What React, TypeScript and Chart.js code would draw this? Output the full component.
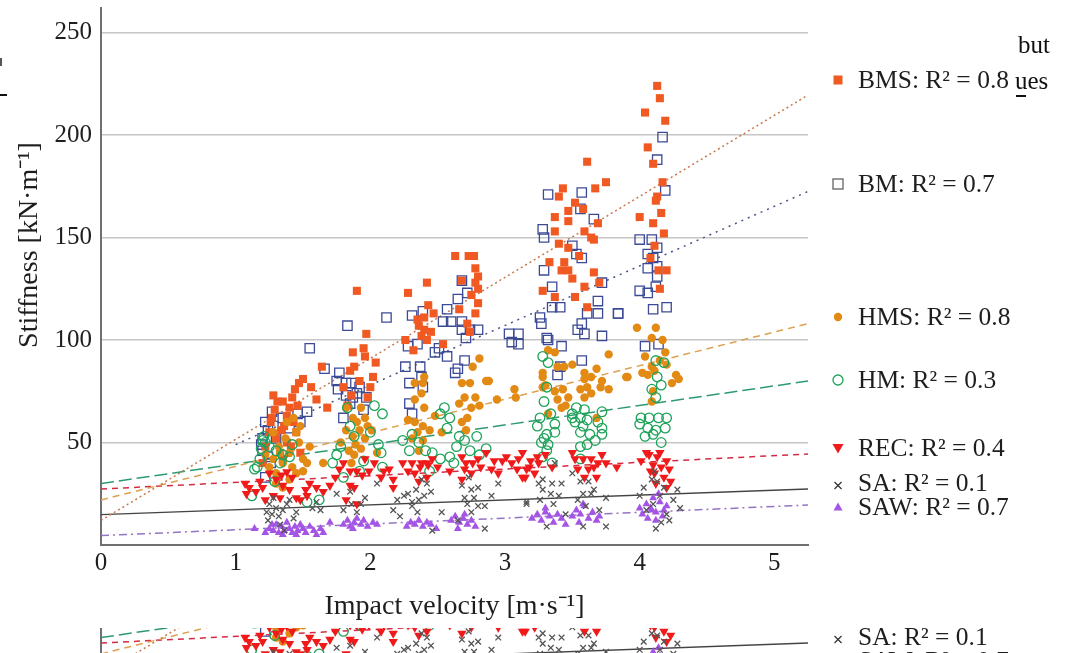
import React, { useEffect, useRef } from "react";
import { Chart, registerables } from "chart.js";

Chart.register(...registerables);

type P = [number, number];

const W = 1073;
const H = 653;
const FONT = "'Liberation Serif', 'Times New Roman', serif";

// ---------- axis ticks ----------
const xTicks = [0, 1, 2, 3, 4, 5];
const yTicks = [50, 100, 150, 200, 250];

// ---------- series (impact velocity m/s, stiffness kN/m) ----------
const bmsPoints: P[] = [
  [1.2, 40], [1.22, 48], [1.25, 55], [1.27, 62], [1.29, 66], [1.3, 52], [1.33, 45], [1.35, 70], [1.36, 58], [1.38, 63],
  [1.4, 67], [1.42, 72], [1.44, 76], [1.45, 55], [1.47, 79], [1.5, 81], [1.31, 70], [1.28, 73], [1.38, 50], [1.43, 60],
  [1.46, 68], [1.26, 60], [1.34, 56], [1.48, 45], [1.35, 42], [1.41, 48], [1.6, 71], [1.68, 67], [1.64, 87], [1.56, 77],
  [1.8, 77], [1.83, 68], [1.85, 85], [1.87, 94], [1.88, 87], [1.9, 124], [1.92, 80], [1.95, 96], [1.96, 92], [1.97, 103],
  [2.0, 77], [2.02, 82], [2.04, 89], [1.98, 72], [1.86, 73],
  [2.28, 123], [2.42, 128], [2.43, 117], [2.4, 111], [2.36, 107], [2.4, 105], [2.45, 104], [2.26, 100], [2.42, 100], [2.38, 102],
  [2.54, 98], [2.32, 95], [2.35, 110], [2.47, 113],
  [2.63, 141], [2.73, 141], [2.77, 141], [2.78, 135], [2.8, 131], [2.78, 128], [2.8, 125], [2.75, 122], [2.8, 118], [2.78, 113],
  [2.68, 129], [2.72, 108], [2.66, 115], [2.74, 104],
  [3.61, 187], [3.75, 177], [3.67, 174], [3.43, 174], [3.4, 170], [3.58, 164], [3.47, 163], [3.52, 167], [3.37, 160], [3.47, 158],
  [3.69, 157], [3.37, 153], [3.59, 153], [3.64, 150], [3.66, 149], [3.4, 147], [3.47, 145], [3.44, 138], [3.42, 134], [3.47, 134],
  [3.66, 133], [3.59, 126], [3.7, 128], [3.28, 124], [3.37, 121], [3.52, 121], [3.61, 116], [3.55, 141], [3.5, 130], [3.33, 138],
  [4.13, 224], [4.15, 218], [4.04, 211], [4.19, 207], [4.06, 194], [4.1, 186], [4.17, 177], [4.13, 170], [4.12, 168], [4.16, 162],
  [4.0, 160], [4.1, 157], [4.18, 152], [4.11, 146], [4.14, 134], [4.2, 134], [4.08, 140], [4.15, 125],
];

const bmPoints: P[] = [
  [1.27, 65], [1.22, 60], [1.24, 56], [1.2, 52], [1.19, 49], [1.2, 46], [1.28, 58], [1.46, 64], [1.53, 65], [1.48, 60],
  [1.24, 43], [1.22, 33], [1.3, 52], [1.35, 62], [1.55, 96], [1.66, 86], [1.4, 57], [1.26, 40],
  [1.83, 107], [1.77, 84], [1.75, 80], [1.82, 79], [1.86, 79], [1.92, 77], [1.76, 76], [1.9, 74], [1.87, 72], [1.97, 72],
  [1.82, 73], [1.85, 69], [1.95, 66], [1.8, 62], [2.12, 111],
  [2.31, 112], [2.39, 114], [2.57, 115], [2.65, 120], [2.68, 129], [2.72, 123], [2.54, 109], [2.6, 109], [2.68, 109], [2.68, 105],
  [2.71, 101], [2.74, 105], [2.8, 105], [2.28, 97], [2.35, 98], [2.51, 96], [2.57, 92], [2.48, 94], [2.65, 86], [2.63, 84],
  [2.7, 90], [2.26, 87], [2.37, 87], [2.38, 82], [2.29, 79], [2.39, 77], [2.29, 69], [2.31, 64], [3.03, 103], [3.1, 103],
  [3.05, 99], [3.1, 98],
  [3.32, 171], [3.57, 172], [3.56, 164], [3.66, 159], [3.28, 154], [3.29, 150], [3.5, 146], [3.53, 142], [3.57, 140], [3.29, 134],
  [3.35, 126], [3.72, 128], [3.35, 116], [3.41, 116], [3.69, 119], [3.61, 113], [3.69, 113], [3.84, 113], [3.26, 111], [3.27, 108],
  [3.31, 101], [3.32, 100], [3.54, 105], [3.57, 108], [3.59, 103], [3.72, 102], [3.42, 97], [3.57, 90], [3.41, 87], [3.39, 83],
  [4.17, 199], [4.13, 188], [4.19, 173], [4.0, 149], [4.09, 149], [4.13, 145], [4.06, 142], [4.1, 140], [4.06, 135], [4.13, 136],
  [4.13, 131], [4.12, 126], [4.0, 124], [4.06, 123], [3.84, 113], [4.1, 115], [4.2, 116], [4.04, 97], [4.14, 98],
];

const hmsPoints: P[] = [
  [1.25, 38], [1.28, 42], [1.3, 35], [1.32, 48], [1.35, 40], [1.37, 52], [1.4, 45], [1.42, 38], [1.45, 55], [1.47, 50],
  [1.5, 42], [1.3, 30], [1.4, 32], [1.45, 35], [1.35, 28], [1.5, 36], [1.55, 48], [1.28, 55], [1.38, 60], [1.43, 62],
  [1.65, 40], [1.22, 44], [1.33, 45], [1.48, 58], [1.53, 40],
  [1.82, 67], [1.93, 67], [1.87, 62], [1.96, 62], [1.98, 58], [1.92, 56], [1.87, 53], [1.96, 52], [1.89, 49], [1.84, 46],
  [1.93, 47], [1.88, 44], [1.82, 56], [2.01, 56], [1.9, 60], [1.86, 40], [2.05, 45], [1.78, 50],
  [2.4, 82], [2.33, 79], [2.39, 79], [2.38, 74], [2.33, 71], [2.4, 67], [2.28, 61], [2.33, 60], [2.39, 58], [2.44, 56],
  [2.35, 55], [2.48, 63], [2.53, 55], [2.31, 52], [2.39, 51], [2.36, 46],
  [2.81, 91], [2.68, 79], [2.74, 79], [2.7, 72], [2.78, 72], [2.66, 69], [2.75, 67], [2.81, 68], [2.86, 80], [2.88, 80],
  [2.72, 62], [2.68, 60], [2.71, 56], [2.94, 71], [3.07, 76], [3.08, 72], [2.76, 87],
  [3.28, 82], [3.28, 77], [3.43, 76], [3.47, 72], [3.45, 68], [3.32, 95], [3.37, 94], [3.28, 84], [3.39, 87], [3.3, 78],
  [3.44, 87], [3.37, 75], [3.39, 71], [3.42, 67], [3.32, 64], [3.77, 93], [3.68, 86], [3.59, 84], [3.64, 82], [3.72, 80],
  [3.59, 81], [3.61, 77], [3.56, 76], [3.71, 77], [3.77, 76], [3.64, 74], [3.9, 82], [3.59, 72], [3.68, 62], [3.5, 88],
  [3.98, 106], [4.12, 106], [4.09, 101], [4.17, 100], [4.04, 92], [4.19, 94], [4.15, 90], [4.09, 87], [4.02, 84], [4.06, 83],
  [4.11, 85], [3.91, 82], [4.27, 83], [4.29, 81], [4.24, 79], [4.1, 75], [4.09, 70], [4.2, 88],
];

const hmPoints: P[] = [
  [1.2, 51], [1.19, 47], [1.16, 38], [1.14, 37], [1.33, 40], [1.35, 44], [1.12, 24], [1.53, 21], [1.21, 53], [1.22, 50],
  [1.29, 31], [1.4, 43], [1.42, 49], [1.62, 22], [1.3, 46], [1.25, 48], [1.18, 42],
  [2.03, 68], [2.09, 64], [1.83, 67], [2.06, 49], [2.08, 45], [2.09, 38], [1.88, 53], [1.78, 48], [1.95, 41], [1.75, 44],
  [1.85, 58], [2.0, 55], [1.92, 36], [1.72, 40], [1.8, 33],
  [2.24, 51], [2.31, 54], [2.36, 50], [2.41, 46], [2.46, 45], [2.29, 46], [2.55, 67], [2.59, 62], [2.52, 64], [2.57, 57],
  [2.66, 53], [2.7, 51], [2.79, 53], [2.64, 48], [2.74, 46], [2.59, 43], [2.52, 42], [2.86, 47], [2.81, 44], [2.44, 36],
  [2.62, 40],
  [3.28, 92], [3.32, 89], [3.31, 77], [3.29, 70], [3.26, 62], [3.34, 64], [3.24, 58], [3.31, 54], [3.37, 59], [3.27, 50],
  [3.31, 46], [3.28, 43], [3.35, 40], [3.37, 55], [3.29, 52], [3.32, 49], [3.53, 67], [3.59, 66], [3.5, 64], [3.56, 62],
  [3.61, 61], [3.52, 60], [3.58, 58], [3.72, 65], [3.69, 60], [3.72, 57], [3.56, 55], [3.63, 54], [3.72, 54], [3.67, 51],
  [3.56, 48], [3.61, 49], [3.56, 42], [3.5, 62],
  [4.12, 90], [4.18, 89], [4.13, 82], [4.16, 78], [4.09, 76], [4.12, 72], [4.01, 62], [4.07, 62], [4.14, 62], [4.2, 62],
  [4.0, 59], [4.06, 57], [4.12, 56], [4.19, 57], [4.04, 53], [4.1, 54], [4.16, 50],
];

const recPoints: P[] = [
  [1.07, 30], [1.1, 28], [1.15, 26], [1.08, 25], [1.2, 28], [1.25, 35], [1.3, 32], [1.34, 34], [1.38, 35.6], [1.42, 33],
  [1.28, 24], [1.33, 23], [1.45, 23], [1.48, 22], [1.53, 24], [1.52, 27], [1.6, 28], [1.55, 30], [1.65, 26], [1.7, 29],
  [1.35, 29], [1.4, 27], [1.18, 31], [1.22, 22],
  [1.74, 33], [1.8, 40], [1.77, 37], [1.85, 36], [1.9, 36], [1.94, 34], [1.85, 29], [1.88, 28], [1.99, 36], [2.08, 33],
  [2.1, 36], [1.82, 22], [1.96, 42], [2.03, 40], [1.9, 20],
  [2.24, 40], [2.31, 40], [2.37, 38], [2.42, 40], [2.14, 37], [2.17, 32], [2.17, 28], [2.28, 36], [2.33, 35], [2.38, 40],
  [2.43, 39], [2.42, 33], [2.36, 31], [2.5, 38], [2.59, 36], [2.46, 42],
  [2.68, 43], [2.71, 40], [2.76, 40], [2.7, 37], [2.75, 35], [2.68, 32], [2.86, 45], [2.92, 41], [2.98, 41], [3.05, 40],
  [3.09, 37], [3.13, 33], [3.18, 38], [2.82, 38], [2.9, 37], [3.01, 43], [3.24, 43], [2.95, 35], [3.1, 42], [2.8, 42],
  [3.13, 45], [3.19, 41], [3.16, 37], [3.22, 35], [3.15, 33], [3.25, 40], [3.3, 44], [3.35, 38],
  [3.52, 42], [3.58, 42], [3.64, 42], [3.69, 40], [3.75, 40], [3.83, 38], [3.54, 37], [3.62, 37], [3.68, 33], [3.59, 33],
  [3.66, 38], [3.72, 44], [3.5, 45],
  [4.01, 41], [4.07, 44], [4.13, 43], [4.2, 41], [4.1, 39], [4.16, 38], [4.22, 37], [4.11, 35], [4.18, 33], [4.2, 28],
  [4.23, 31], [4.05, 45], [4.15, 45], [4.12, 30], [4.08, 36],
];

const saPoints: P[] = [
  [1.25, 20], [1.3, 18], [1.23, 16], [1.27, 15], [1.32, 14], [1.24, 12], [1.35, 17], [1.38, 20], [1.4, 22], [1.43, 13],
  [1.36, 7], [1.33, 10], [1.57, 18], [1.6, 21], [1.63, 17], [1.75, 25], [1.8, 17], [1.86, 20], [1.9, 16], [1.45, 16],
  [1.28, 23],
  [1.96, 23], [1.93, 20], [2.17, 17], [2.2, 22], [2.25, 24], [2.34, 27], [2.36, 22], [2.31, 19], [2.35, 16], [2.42, 30],
  [2.45, 26], [2.4, 24], [2.28, 25], [2.31, 21], [2.46, 7], [2.53, 16], [2.22, 14], [1.85, 26], [2.38, 32], [2.05, 30],
  [2.68, 29], [2.75, 27], [2.7, 23], [2.77, 23], [2.8, 28], [2.72, 20], [2.8, 19], [2.85, 19], [2.75, 16], [2.95, 30],
  [3.16, 20], [2.65, 12], [2.9, 24], [2.73, 33], [2.85, 8],
  [3.37, 40], [3.28, 32], [3.25, 30], [3.35, 30], [3.28, 27], [3.34, 25], [3.26, 22], [3.16, 21], [3.36, 20], [3.42, 30],
  [3.4, 24], [3.56, 31], [3.62, 31], [3.58, 25], [3.64, 25], [3.54, 22], [3.66, 27], [3.75, 23], [3.75, 9], [3.31, 9],
  [3.58, 9], [3.5, 35], [3.6, 19], [3.45, 15], [3.7, 17],
  [4.11, 36], [4.09, 32], [4.18, 28], [4.03, 28], [4.13, 31], [4.0, 24], [4.15, 24], [4.25, 22], [4.28, 27], [4.16, 11],
  [4.1, 20], [4.2, 15], [4.05, 17], [4.22, 12], [4.12, 8], [4.3, 18],
];

const sawPoints: P[] = [
  [1.14, 8], [1.22, 6], [1.25, 8], [1.28, 7], [1.3, 10], [1.32, 6], [1.34, 9], [1.36, 7], [1.38, 11], [1.4, 8],
  [1.42, 6], [1.44, 9], [1.46, 7], [1.48, 10], [1.5, 8], [1.52, 6], [1.55, 9], [1.58, 7], [1.6, 5], [1.63, 8],
  [1.65, 6], [1.7, 11], [1.35, 5], [1.45, 5], [1.27, 10],
  [1.8, 10], [1.83, 12], [1.85, 9], [1.88, 11], [1.9, 13], [1.93, 10], [1.95, 12], [1.98, 9], [2.02, 11], [1.87, 8],
  [2.05, 10],
  [2.27, 9], [2.3, 11], [2.33, 10], [2.36, 12], [2.39, 9], [2.42, 11], [2.45, 10], [2.49, 8], [2.6, 12], [2.63, 14],
  [2.66, 11], [2.69, 13], [2.72, 10], [2.75, 12], [2.78, 9], [2.65, 8], [2.7, 15],
  [3.2, 13], [3.24, 15], [3.27, 12], [3.3, 16], [3.33, 14], [3.36, 11], [3.39, 15], [3.42, 13], [3.3, 18], [3.45, 10],
  [3.5, 14], [3.53, 17], [3.56, 15], [3.59, 19], [3.62, 13], [3.65, 16], [3.68, 12], [3.58, 20], [3.7, 14], [3.55, 11],
  [4.02, 15], [4.05, 20], [4.08, 18], [4.1, 23], [4.12, 16], [4.15, 21], [4.17, 14], [4.2, 19], [4.06, 13], [4.14, 25],
  [4.09, 17], [4.18, 17], [4.0, 18], [4.12, 12],
];

// ---------- fitted trend lines (end points) ----------
const bmsTrend: P[] = [[0, 12], [5.25, 219.5]];
const bmTrend: P[] = [[1.0, 49], [5.25, 172.5]];
const hmsTrend: P[] = [[0, 22], [5.25, 108]];
const hmTrend: P[] = [[0, 30], [5.25, 80]];
const recTrend: P[] = [[0, 27.3], [5.25, 44.4]];
const saTrend: P[] = [[0, 14.8], [5.25, 27.3]];
const sawTrend: P[] = [[0, 4.6], [5.25, 19.5]];

// ---------- legend ----------
const seriesNames = ["BMS", "BM", "HMS", "HM", "REC", "SA", "SAW"];
const r2Values = ["0.8", "0.7", "0.8", "0.3", "0.4", "0.1", "0.7"];

const COLORS = {
  bms: "#f05a22",
  bm: "#3c4a96",
  hms: "#e28a14",
  hm: "#1ea35a",
  rec: "#f01a1a",
  sa: "#555555",
  saw: "#a455e6",
};

const toXY = (pts: P[]) => pts.map(([x, y]) => ({ x, y }));

function trend(pts: P[], color: string, dash: number[], width = 1.5) {
  return {
    data: toXY(pts),
    showLine: true,
    borderColor: color,
    borderWidth: width,
    borderDash: dash,
    pointRadius: 0,
    fill: false,
    tension: 0,
  };
}

function makeConfig(): any {
  return {
    type: "scatter",
    data: {
      datasets: [
        { data: toXY(saPoints), pointStyle: "crossRot", pointRadius: 4, borderColor: COLORS.sa, borderWidth: 1.3, backgroundColor: COLORS.sa },
        { data: toXY(sawPoints), pointStyle: "triangle", pointRadius: 4.6, backgroundColor: COLORS.saw, borderColor: COLORS.saw, borderWidth: 0 },
        { data: toXY(recPoints), pointStyle: "triangle", pointRotation: 180, pointRadius: 5.4, backgroundColor: COLORS.rec, borderColor: COLORS.rec, borderWidth: 0 },
        { data: toXY(hmPoints), pointStyle: "circle", pointRadius: 4.8, backgroundColor: "rgba(0,0,0,0)", borderColor: COLORS.hm, borderWidth: 1.3 },
        { data: toXY(hmsPoints), pointStyle: "circle", pointRadius: 4.2, backgroundColor: COLORS.hms, borderColor: COLORS.hms, borderWidth: 0 },
        { data: toXY(bmsPoints), pointStyle: "rect", pointRadius: 5.7, backgroundColor: COLORS.bms, borderColor: COLORS.bms, borderWidth: 0 },
        { data: toXY(bmPoints), pointStyle: "rect", pointRadius: 6.6, backgroundColor: "rgba(0,0,0,0)", borderColor: COLORS.bm, borderWidth: 1.3 },
        trend(bmsTrend, "#c7784c", [2, 3]),
        trend(bmTrend, "#4b5384", [2, 5]),
        trend(hmsTrend, "#dca050", [7, 5]),
        trend(hmTrend, "#2e9a70", [13, 5]),
        trend(recTrend, "#d42a44", [6, 5]),
        trend(saTrend, "#444444", [], 1.4),
        trend(sawTrend, "#9474c4", [8, 4, 2, 4]),
      ],
    },
    options: {
      responsive: false,
      animation: false,
      devicePixelRatio: 1,
      layout: { padding: { left: 0, top: 8, right: W - 808, bottom: 30 } },
      plugins: { legend: { display: false }, tooltip: { enabled: false } },
      scales: {
        x: {
          type: "linear",
          min: 0,
          max: 5.25,
          afterFit: (s: any) => {
            s.height = H - 30 - 545;
            s.paddingLeft = 0;
            s.paddingRight = 0;
          },
          afterBuildTicks: (s: any) => { s.ticks = xTicks.map((v) => ({ value: v })); },
          grid: { display: false, drawTicks: false },
          border: { display: true, color: "#707070", width: 2 },
          ticks: { font: { family: FONT, size: 25 }, color: "#1e1e1e", padding: 3, maxRotation: 0 },
          title: {
            display: true,
            text: "Impact velocity [m·s⁻¹]",
            font: { family: FONT, size: 28 },
            color: "#1e1e1e",
            padding: { top: 0, bottom: 0 },
          },
        },
        y: {
          type: "linear",
          min: 0,
          max: 262,
          afterFit: (s: any) => {
            s.width = 101;
            s.paddingTop = 0;
            s.paddingBottom = 0;
          },
          afterBuildTicks: (s: any) => { s.ticks = [0, ...yTicks].map((v) => ({ value: v })); },
          grid: {
            color: (ctx: any) => (ctx.tick && ctx.tick.value === 0 ? "rgba(0,0,0,0)" : "#c6c6c6"),
            lineWidth: 1.5,
            drawTicks: false,
          },
          border: { display: true, color: "#707070", width: 2 },
          ticks: {
            font: { family: FONT, size: 25 },
            color: "#1e1e1e",
            padding: 9,
            callback: (v: any) => (v === 0 ? "" : String(v)),
          },
        },
      },
    },
  };
}

function Marker({ kind }: { kind: string }) {
  const s = 16;
  const c = s / 2;
  let el: React.ReactNode = null;
  if (kind === "BMS") el = <rect x={c - 4.5} y={c - 4.5} width={9} height={9} fill={COLORS.bms} />;
  if (kind === "BM") el = <rect x={c - 5} y={c - 5} width={10} height={10} fill="none" stroke="#555" strokeWidth={1.2} />;
  if (kind === "HMS") el = <circle cx={c} cy={c} r={4.2} fill={COLORS.hms} />;
  if (kind === "HM") el = <circle cx={c} cy={c} r={5} fill="none" stroke={COLORS.hm} strokeWidth={1.3} />;
  if (kind === "REC") el = <polygon points={`${c - 5.5},${c - 4} ${c + 5.5},${c - 4} ${c},${c + 5.5}`} fill={COLORS.rec} />;
  if (kind === "SA")
    el = (
      <g stroke="#333" strokeWidth={1.3}>
        <line x1={c - 3.5} y1={c - 1} x2={c + 3.5} y2={c + 6} />
        <line x1={c + 3.5} y1={c - 1} x2={c - 3.5} y2={c + 6} />
      </g>
    );
  if (kind === "SAW") el = <polygon points={`${c - 4.5},${c + 3.5} ${c + 4.5},${c + 3.5} ${c},${c - 4.5}`} fill={COLORS.saw} />;
  return (
    <svg width={s} height={s} style={{ position: "absolute", left: 830, top: 7, overflow: "visible" }}>
      {el}
    </svg>
  );
}

const legendRowY = [80, 184, 317, 380, 448, 483, 507];

function Figure({ offsetY }: { offsetY: number }) {
  const ref = useRef<HTMLCanvasElement | null>(null);
  useEffect(() => {
    if (!ref.current) return;
    const chart = new Chart(ref.current, makeConfig());
    return () => chart.destroy();
  }, []);
  const textStyle: React.CSSProperties = {
    fontFamily: FONT,
    color: "#1e1e1e",
    whiteSpace: "nowrap",
  };
  return (
    <div style={{ position: "absolute", left: 0, top: offsetY, width: W, height: H }}>
      <canvas ref={ref} width={W} height={H} style={{ position: "absolute", left: 0, top: 0, width: W, height: H }} />
      <div
        style={{
          ...textStyle,
          position: "absolute",
          left: 28 - 160,
          top: 245 - 20,
          width: 320,
          height: 40,
          lineHeight: "40px",
          fontSize: 28,
          textAlign: "center",
          transform: "rotate(-90deg)",
        }}
      >
        Stiffness [kN·m⁻¹]
      </div>
      {seriesNames.map((name, i) => (
        <div key={name} style={{ position: "absolute", left: 0, top: legendRowY[i] - 15, width: W, height: 30 }}>
          <Marker kind={name} />
          <div style={{ ...textStyle, position: "absolute", left: 858, top: 0, height: 30, lineHeight: "30px", fontSize: 25.5 }}>
            {name}: R² = {r2Values[i]}
          </div>
        </div>
      ))}
    </div>
  );
}

export default function App() {
  const stray: React.CSSProperties = {
    position: "absolute",
    fontFamily: FONT,
    fontSize: 25,
    lineHeight: "30px",
    color: "#111",
    whiteSpace: "nowrap",
  };
  return (
    <div style={{ position: "fixed", left: 0, top: 0, width: W, height: H, background: "#fff", overflow: "hidden" }}>
      <Figure offsetY={0} />
      <div style={{ position: "absolute", left: 0, top: 628, width: W, height: H - 628, overflow: "hidden", background: "#fff" }}>
        <Figure offsetY={154 - 628} />
      </div>
      <div style={{ ...stray, left: 1018, top: 30 }}>but</div>
      <div style={{ ...stray, left: 1015, top: 66 }}>ues</div>
      <div style={{ position: "absolute", left: 1016, top: 95, width: 10, height: 2, background: "#111" }} />
      <div style={{ position: "absolute", left: 0, top: 94, width: 7, height: 2, background: "#111" }} />
      <div style={{ position: "absolute", left: 0, top: 58, width: 2, height: 8, background: "#555" }} />
    </div>
  );
}
